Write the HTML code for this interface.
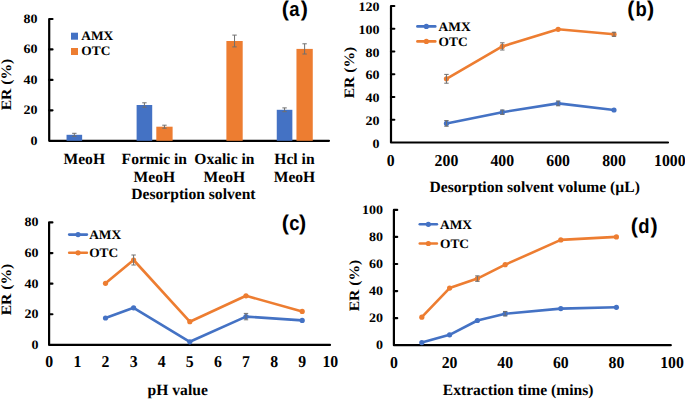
<!DOCTYPE html>
<html><head><meta charset="utf-8"><style>
html,body{margin:0;padding:0;background:#fff;}
body{width:685px;height:399px;overflow:hidden;}
svg{display:block;}
.s{font-family:"Liberation Serif", serif;font-weight:bold;fill:#000;}
.a{font-family:"Liberation Sans", sans-serif;font-weight:bold;fill:#000;}
</style></head><body>
<svg width="685" height="399" viewBox="0 0 685 399" text-rendering="geometricPrecision">
<rect width="685" height="399" fill="#fff"/>
<path d="M52.50,19.00 L49.20,19.00 L49.20,140.80 L329.00,140.80" fill="none" stroke="#000" stroke-width="2.2" stroke-linejoin="round" stroke-linecap="round"/>
<line x1="49.20" y1="49.45" x2="52.50" y2="49.45" stroke="#000" stroke-width="2.2" stroke-linecap="round"/>
<line x1="49.20" y1="79.90" x2="52.50" y2="79.90" stroke="#000" stroke-width="2.2" stroke-linecap="round"/>
<line x1="49.20" y1="110.35" x2="52.50" y2="110.35" stroke="#000" stroke-width="2.2" stroke-linecap="round"/>
<text class="s" transform="translate(37.50,23.00) scale(1,0.92)" font-size="14" text-anchor="end">80</text>
<text class="s" transform="translate(37.50,53.45) scale(1,0.92)" font-size="14" text-anchor="end">60</text>
<text class="s" transform="translate(37.50,83.90) scale(1,0.92)" font-size="14" text-anchor="end">40</text>
<text class="s" transform="translate(37.50,114.35) scale(1,0.92)" font-size="14" text-anchor="end">20</text>
<text class="s" transform="translate(37.50,144.80) scale(1,0.92)" font-size="14" text-anchor="end">0</text>
<rect x="66.54" y="134.80" width="15.60" height="6.00" fill="#4472C4"/>
<rect x="136.61" y="105.00" width="15.60" height="35.80" fill="#4472C4"/>
<rect x="156.31" y="126.70" width="16.30" height="14.10" fill="#ED7D31"/>
<rect x="226.39" y="41.00" width="16.30" height="99.80" fill="#ED7D31"/>
<rect x="276.76" y="109.80" width="15.60" height="31.00" fill="#4472C4"/>
<rect x="296.46" y="48.90" width="16.30" height="91.90" fill="#ED7D31"/>
<line x1="74.34" y1="133.30" x2="74.34" y2="136.30" stroke="#6f6f6f" stroke-width="1" stroke-linecap="butt"/>
<line x1="72.14" y1="133.30" x2="76.54" y2="133.30" stroke="#6f6f6f" stroke-width="1" stroke-linecap="butt"/>
<line x1="72.14" y1="136.30" x2="76.54" y2="136.30" stroke="#6f6f6f" stroke-width="1" stroke-linecap="butt"/>
<line x1="144.41" y1="102.80" x2="144.41" y2="107.20" stroke="#6f6f6f" stroke-width="1" stroke-linecap="butt"/>
<line x1="142.21" y1="102.80" x2="146.61" y2="102.80" stroke="#6f6f6f" stroke-width="1" stroke-linecap="butt"/>
<line x1="142.21" y1="107.20" x2="146.61" y2="107.20" stroke="#6f6f6f" stroke-width="1" stroke-linecap="butt"/>
<line x1="164.46" y1="125.20" x2="164.46" y2="128.20" stroke="#6f6f6f" stroke-width="1" stroke-linecap="butt"/>
<line x1="162.26" y1="125.20" x2="166.66" y2="125.20" stroke="#6f6f6f" stroke-width="1" stroke-linecap="butt"/>
<line x1="162.26" y1="128.20" x2="166.66" y2="128.20" stroke="#6f6f6f" stroke-width="1" stroke-linecap="butt"/>
<line x1="234.54" y1="35.10" x2="234.54" y2="46.90" stroke="#6f6f6f" stroke-width="1" stroke-linecap="butt"/>
<line x1="232.34" y1="35.10" x2="236.74" y2="35.10" stroke="#6f6f6f" stroke-width="1" stroke-linecap="butt"/>
<line x1="232.34" y1="46.90" x2="236.74" y2="46.90" stroke="#6f6f6f" stroke-width="1" stroke-linecap="butt"/>
<line x1="284.56" y1="107.90" x2="284.56" y2="111.70" stroke="#6f6f6f" stroke-width="1" stroke-linecap="butt"/>
<line x1="282.36" y1="107.90" x2="286.76" y2="107.90" stroke="#6f6f6f" stroke-width="1" stroke-linecap="butt"/>
<line x1="282.36" y1="111.70" x2="286.76" y2="111.70" stroke="#6f6f6f" stroke-width="1" stroke-linecap="butt"/>
<line x1="304.61" y1="43.80" x2="304.61" y2="54.00" stroke="#6f6f6f" stroke-width="1" stroke-linecap="butt"/>
<line x1="302.41" y1="43.80" x2="306.81" y2="43.80" stroke="#6f6f6f" stroke-width="1" stroke-linecap="butt"/>
<line x1="302.41" y1="54.00" x2="306.81" y2="54.00" stroke="#6f6f6f" stroke-width="1" stroke-linecap="butt"/>
<rect x="71.00" y="32.70" width="7.00" height="7.00" fill="#4472C4"/>
<rect x="71.00" y="48.00" width="7.00" height="7.00" fill="#ED7D31"/>
<text class="s" transform="translate(81.30,40.10) scale(1,0.97)" font-size="13.4" text-anchor="start">AMX</text>
<text class="s" transform="translate(81.30,55.30) scale(1,0.97)" font-size="13.4" text-anchor="start">OTC</text>
<text class="s" transform="translate(84.24,164.00) scale(1,1.0)" font-size="15.6" text-anchor="middle">MeoH</text>
<text class="s" transform="translate(154.31,164.00) scale(1,1.0)" font-size="15.6" text-anchor="middle">Formic in</text>
<text class="s" transform="translate(154.31,181.60) scale(1,1.0)" font-size="15.6" text-anchor="middle">MeoH</text>
<text class="s" transform="translate(224.39,164.00) scale(1,1.0)" font-size="15.6" text-anchor="middle">Oxalic in</text>
<text class="s" transform="translate(224.39,181.60) scale(1,1.0)" font-size="15.6" text-anchor="middle">MeoH</text>
<text class="s" transform="translate(294.46,164.00) scale(1,1.0)" font-size="15.6" text-anchor="middle">Hcl in</text>
<text class="s" transform="translate(294.46,181.60) scale(1,1.0)" font-size="15.6" text-anchor="middle">MeoH</text>
<text class="s" transform="translate(193.40,198.60) scale(1,1.0)" font-size="15.6" text-anchor="middle">Desorption solvent</text>
<text class="a" font-size="21.5" text-anchor="middle" x="285.25" y="16.20">(</text>
<text class="a" font-size="20.5" text-anchor="middle" transform="translate(294.40,16.20) scale(0.9,1)">a</text>
<text class="a" font-size="21.5" text-anchor="middle" x="304.40" y="16.20">)</text>
<text class="s" font-size="15.6" text-anchor="middle" transform="translate(11.10,84.60) rotate(-90) scale(1,0.92)">ER (%)</text>
<path d="M394.30,6.00 L391.00,6.00 L391.00,142.50 L668.00,142.50" fill="none" stroke="#000" stroke-width="2.2" stroke-linejoin="round" stroke-linecap="round"/>
<line x1="391.00" y1="119.75" x2="394.30" y2="119.75" stroke="#000" stroke-width="2.2" stroke-linecap="round"/>
<line x1="391.00" y1="97.00" x2="394.30" y2="97.00" stroke="#000" stroke-width="2.2" stroke-linecap="round"/>
<line x1="391.00" y1="74.25" x2="394.30" y2="74.25" stroke="#000" stroke-width="2.2" stroke-linecap="round"/>
<line x1="391.00" y1="51.50" x2="394.30" y2="51.50" stroke="#000" stroke-width="2.2" stroke-linecap="round"/>
<line x1="391.00" y1="28.75" x2="394.30" y2="28.75" stroke="#000" stroke-width="2.2" stroke-linecap="round"/>
<text class="s" transform="translate(379.50,147.60) scale(1,0.92)" font-size="14" text-anchor="end">0</text>
<text class="s" transform="translate(379.50,124.85) scale(1,0.92)" font-size="14" text-anchor="end">20</text>
<text class="s" transform="translate(379.50,102.10) scale(1,0.92)" font-size="14" text-anchor="end">40</text>
<text class="s" transform="translate(379.50,79.35) scale(1,0.92)" font-size="14" text-anchor="end">60</text>
<text class="s" transform="translate(379.50,56.60) scale(1,0.92)" font-size="14" text-anchor="end">80</text>
<text class="s" transform="translate(379.50,33.85) scale(1,0.92)" font-size="14" text-anchor="end">100</text>
<text class="s" transform="translate(379.50,11.10) scale(1,0.92)" font-size="14" text-anchor="end">120</text>
<text class="s" transform="translate(390.60,165.70) scale(1,1.05)" font-size="15.8" text-anchor="middle">0</text>
<text class="s" transform="translate(446.45,165.70) scale(1,1.05)" font-size="15.8" text-anchor="middle">200</text>
<text class="s" transform="translate(502.30,165.70) scale(1,1.05)" font-size="15.8" text-anchor="middle">400</text>
<text class="s" transform="translate(558.15,165.70) scale(1,1.05)" font-size="15.8" text-anchor="middle">600</text>
<text class="s" transform="translate(614.00,165.70) scale(1,1.05)" font-size="15.8" text-anchor="middle">800</text>
<text class="s" transform="translate(669.85,165.70) scale(1,1.05)" font-size="15.8" text-anchor="middle">1000</text>
<polyline points="446.45,123.40 502.30,112.20 558.15,103.40 614.00,110.00" fill="none" stroke="#4472C4" stroke-width="2.6" stroke-linejoin="round" stroke-linecap="round"/>
<circle cx="446.45" cy="123.40" r="2.6" fill="#4472C4"/>
<circle cx="502.30" cy="112.20" r="2.6" fill="#4472C4"/>
<circle cx="558.15" cy="103.40" r="2.6" fill="#4472C4"/>
<circle cx="614.00" cy="110.00" r="2.6" fill="#4472C4"/>
<polyline points="446.45,78.80 502.30,46.40 558.15,29.30 614.00,34.30" fill="none" stroke="#ED7D31" stroke-width="2.6" stroke-linejoin="round" stroke-linecap="round"/>
<circle cx="446.45" cy="78.80" r="2.6" fill="#ED7D31"/>
<circle cx="502.30" cy="46.40" r="2.6" fill="#ED7D31"/>
<circle cx="558.15" cy="29.30" r="2.6" fill="#ED7D31"/>
<circle cx="614.00" cy="34.30" r="2.6" fill="#ED7D31"/>
<line x1="446.45" y1="120.55" x2="446.45" y2="126.25" stroke="#6f6f6f" stroke-width="1" stroke-linecap="butt"/>
<line x1="444.25" y1="120.55" x2="448.65" y2="120.55" stroke="#6f6f6f" stroke-width="1" stroke-linecap="butt"/>
<line x1="444.25" y1="126.25" x2="448.65" y2="126.25" stroke="#6f6f6f" stroke-width="1" stroke-linecap="butt"/>
<line x1="502.30" y1="110.00" x2="502.30" y2="114.40" stroke="#6f6f6f" stroke-width="1" stroke-linecap="butt"/>
<line x1="500.10" y1="110.00" x2="504.50" y2="110.00" stroke="#6f6f6f" stroke-width="1" stroke-linecap="butt"/>
<line x1="500.10" y1="114.40" x2="504.50" y2="114.40" stroke="#6f6f6f" stroke-width="1" stroke-linecap="butt"/>
<line x1="558.15" y1="101.00" x2="558.15" y2="105.80" stroke="#6f6f6f" stroke-width="1" stroke-linecap="butt"/>
<line x1="555.95" y1="101.00" x2="560.35" y2="101.00" stroke="#6f6f6f" stroke-width="1" stroke-linecap="butt"/>
<line x1="555.95" y1="105.80" x2="560.35" y2="105.80" stroke="#6f6f6f" stroke-width="1" stroke-linecap="butt"/>
<line x1="446.45" y1="74.40" x2="446.45" y2="83.20" stroke="#6f6f6f" stroke-width="1" stroke-linecap="butt"/>
<line x1="444.25" y1="74.40" x2="448.65" y2="74.40" stroke="#6f6f6f" stroke-width="1" stroke-linecap="butt"/>
<line x1="444.25" y1="83.20" x2="448.65" y2="83.20" stroke="#6f6f6f" stroke-width="1" stroke-linecap="butt"/>
<line x1="502.30" y1="42.80" x2="502.30" y2="50.00" stroke="#6f6f6f" stroke-width="1" stroke-linecap="butt"/>
<line x1="500.10" y1="42.80" x2="504.50" y2="42.80" stroke="#6f6f6f" stroke-width="1" stroke-linecap="butt"/>
<line x1="500.10" y1="50.00" x2="504.50" y2="50.00" stroke="#6f6f6f" stroke-width="1" stroke-linecap="butt"/>
<line x1="614.00" y1="32.25" x2="614.00" y2="36.35" stroke="#6f6f6f" stroke-width="1" stroke-linecap="butt"/>
<line x1="611.80" y1="32.25" x2="616.20" y2="32.25" stroke="#6f6f6f" stroke-width="1" stroke-linecap="butt"/>
<line x1="611.80" y1="36.35" x2="616.20" y2="36.35" stroke="#6f6f6f" stroke-width="1" stroke-linecap="butt"/>
<line x1="417.40" y1="26.40" x2="435.30" y2="26.40" stroke="#4472C4" stroke-width="2.6" stroke-linecap="round"/>
<circle cx="426.35" cy="26.40" r="2.6" fill="#4472C4"/>
<line x1="417.40" y1="41.40" x2="435.30" y2="41.40" stroke="#ED7D31" stroke-width="2.6" stroke-linecap="round"/>
<circle cx="426.35" cy="41.40" r="2.6" fill="#ED7D31"/>
<text class="s" transform="translate(438.60,30.90) scale(1,0.97)" font-size="13.4" text-anchor="start">AMX</text>
<text class="s" transform="translate(438.60,45.70) scale(1,0.97)" font-size="13.4" text-anchor="start">OTC</text>
<text class="s" transform="translate(534.70,192.00) scale(1,1.0)" font-size="15.6" text-anchor="middle">Desorption solvent volume (µL)</text>
<text class="a" font-size="21.5" text-anchor="middle" x="630.75" y="15.80">(</text>
<text class="a" font-size="20.5" text-anchor="middle" transform="translate(641.25,15.80) scale(0.9,1)">b</text>
<text class="a" font-size="21.5" text-anchor="middle" x="650.65" y="15.80">)</text>
<text class="s" font-size="15.6" text-anchor="middle" transform="translate(353.90,72.60) rotate(-90) scale(1,0.92)">ER (%)</text>
<path d="M52.40,222.40 L49.10,222.40 L49.10,344.90 L330.00,344.90" fill="none" stroke="#000" stroke-width="2.2" stroke-linejoin="round" stroke-linecap="round"/>
<line x1="49.10" y1="314.27" x2="52.40" y2="314.27" stroke="#000" stroke-width="2.2" stroke-linecap="round"/>
<line x1="49.10" y1="283.65" x2="52.40" y2="283.65" stroke="#000" stroke-width="2.2" stroke-linecap="round"/>
<line x1="49.10" y1="253.03" x2="52.40" y2="253.03" stroke="#000" stroke-width="2.2" stroke-linecap="round"/>
<text class="s" transform="translate(38.40,348.80) scale(1,0.92)" font-size="14" text-anchor="end">0</text>
<text class="s" transform="translate(38.40,318.17) scale(1,0.92)" font-size="14" text-anchor="end">20</text>
<text class="s" transform="translate(38.40,287.55) scale(1,0.92)" font-size="14" text-anchor="end">40</text>
<text class="s" transform="translate(38.40,256.93) scale(1,0.92)" font-size="14" text-anchor="end">60</text>
<text class="s" transform="translate(38.40,226.30) scale(1,0.92)" font-size="14" text-anchor="end">80</text>
<text class="s" transform="translate(49.30,366.70) scale(1,1.05)" font-size="15.8" text-anchor="middle">0</text>
<text class="s" transform="translate(77.40,366.70) scale(1,1.05)" font-size="15.8" text-anchor="middle">1</text>
<text class="s" transform="translate(105.50,366.70) scale(1,1.05)" font-size="15.8" text-anchor="middle">2</text>
<text class="s" transform="translate(133.60,366.70) scale(1,1.05)" font-size="15.8" text-anchor="middle">3</text>
<text class="s" transform="translate(161.70,366.70) scale(1,1.05)" font-size="15.8" text-anchor="middle">4</text>
<text class="s" transform="translate(189.80,366.70) scale(1,1.05)" font-size="15.8" text-anchor="middle">5</text>
<text class="s" transform="translate(217.90,366.70) scale(1,1.05)" font-size="15.8" text-anchor="middle">6</text>
<text class="s" transform="translate(246.00,366.70) scale(1,1.05)" font-size="15.8" text-anchor="middle">7</text>
<text class="s" transform="translate(274.10,366.70) scale(1,1.05)" font-size="15.8" text-anchor="middle">8</text>
<text class="s" transform="translate(302.20,366.70) scale(1,1.05)" font-size="15.8" text-anchor="middle">9</text>
<text class="s" transform="translate(330.30,366.70) scale(1,1.05)" font-size="15.8" text-anchor="middle">10</text>
<polyline points="105.50,318.00 133.60,307.80 189.80,341.80 246.00,316.60 302.20,320.40" fill="none" stroke="#4472C4" stroke-width="2.6" stroke-linejoin="round" stroke-linecap="round"/>
<circle cx="105.50" cy="318.00" r="2.6" fill="#4472C4"/>
<circle cx="133.60" cy="307.80" r="2.6" fill="#4472C4"/>
<circle cx="189.80" cy="341.80" r="2.6" fill="#4472C4"/>
<circle cx="246.00" cy="316.60" r="2.6" fill="#4472C4"/>
<circle cx="302.20" cy="320.40" r="2.6" fill="#4472C4"/>
<polyline points="105.50,283.30 133.60,260.00 189.80,321.70 246.00,295.80 302.20,311.40" fill="none" stroke="#ED7D31" stroke-width="2.6" stroke-linejoin="round" stroke-linecap="round"/>
<circle cx="105.50" cy="283.30" r="2.6" fill="#ED7D31"/>
<circle cx="133.60" cy="260.00" r="2.6" fill="#ED7D31"/>
<circle cx="189.80" cy="321.70" r="2.6" fill="#ED7D31"/>
<circle cx="246.00" cy="295.80" r="2.6" fill="#ED7D31"/>
<circle cx="302.20" cy="311.40" r="2.6" fill="#ED7D31"/>
<line x1="246.00" y1="313.40" x2="246.00" y2="319.80" stroke="#6f6f6f" stroke-width="1" stroke-linecap="butt"/>
<line x1="243.80" y1="313.40" x2="248.20" y2="313.40" stroke="#6f6f6f" stroke-width="1" stroke-linecap="butt"/>
<line x1="243.80" y1="319.80" x2="248.20" y2="319.80" stroke="#6f6f6f" stroke-width="1" stroke-linecap="butt"/>
<line x1="133.60" y1="255.00" x2="133.60" y2="265.00" stroke="#6f6f6f" stroke-width="1" stroke-linecap="butt"/>
<line x1="131.40" y1="255.00" x2="135.80" y2="255.00" stroke="#6f6f6f" stroke-width="1" stroke-linecap="butt"/>
<line x1="131.40" y1="265.00" x2="135.80" y2="265.00" stroke="#6f6f6f" stroke-width="1" stroke-linecap="butt"/>
<line x1="69.20" y1="234.60" x2="86.90" y2="234.60" stroke="#4472C4" stroke-width="2.6" stroke-linecap="round"/>
<circle cx="78.05" cy="234.60" r="2.6" fill="#4472C4"/>
<line x1="69.20" y1="252.80" x2="86.90" y2="252.80" stroke="#ED7D31" stroke-width="2.6" stroke-linecap="round"/>
<circle cx="78.05" cy="252.80" r="2.6" fill="#ED7D31"/>
<text class="s" transform="translate(89.20,238.80) scale(1,0.97)" font-size="13.4" text-anchor="start">AMX</text>
<text class="s" transform="translate(89.20,256.80) scale(1,0.97)" font-size="13.4" text-anchor="start">OTC</text>
<text class="s" transform="translate(177.70,395.20) scale(1,1.0)" font-size="15.6" text-anchor="middle">pH value</text>
<text class="a" font-size="21.5" text-anchor="middle" x="285.40" y="229.70">(</text>
<text class="a" font-size="20.5" text-anchor="middle" transform="translate(294.40,229.70) scale(0.9,1)">c</text>
<text class="a" font-size="21.5" text-anchor="middle" x="302.50" y="229.70">)</text>
<text class="s" font-size="15.6" text-anchor="middle" transform="translate(11.00,289.60) rotate(-90) scale(1,0.92)">ER (%)</text>
<path d="M397.20,209.90 L393.90,209.90 L393.90,345.20 L670.80,345.20" fill="none" stroke="#000" stroke-width="2.2" stroke-linejoin="round" stroke-linecap="round"/>
<line x1="393.90" y1="318.14" x2="397.20" y2="318.14" stroke="#000" stroke-width="2.2" stroke-linecap="round"/>
<line x1="393.90" y1="291.08" x2="397.20" y2="291.08" stroke="#000" stroke-width="2.2" stroke-linecap="round"/>
<line x1="393.90" y1="264.02" x2="397.20" y2="264.02" stroke="#000" stroke-width="2.2" stroke-linecap="round"/>
<line x1="393.90" y1="236.96" x2="397.20" y2="236.96" stroke="#000" stroke-width="2.2" stroke-linecap="round"/>
<text class="s" transform="translate(382.90,349.10) scale(1,0.92)" font-size="14" text-anchor="end">0</text>
<text class="s" transform="translate(382.90,322.04) scale(1,0.92)" font-size="14" text-anchor="end">20</text>
<text class="s" transform="translate(382.90,294.98) scale(1,0.92)" font-size="14" text-anchor="end">40</text>
<text class="s" transform="translate(382.90,267.92) scale(1,0.92)" font-size="14" text-anchor="end">60</text>
<text class="s" transform="translate(382.90,240.86) scale(1,0.92)" font-size="14" text-anchor="end">80</text>
<text class="s" transform="translate(382.90,213.80) scale(1,0.92)" font-size="14" text-anchor="end">100</text>
<text class="s" transform="translate(394.00,367.90) scale(1,1.05)" font-size="15.8" text-anchor="middle">0</text>
<text class="s" transform="translate(449.60,367.90) scale(1,1.05)" font-size="15.8" text-anchor="middle">20</text>
<text class="s" transform="translate(505.20,367.90) scale(1,1.05)" font-size="15.8" text-anchor="middle">40</text>
<text class="s" transform="translate(560.80,367.90) scale(1,1.05)" font-size="15.8" text-anchor="middle">60</text>
<text class="s" transform="translate(616.40,367.90) scale(1,1.05)" font-size="15.8" text-anchor="middle">80</text>
<text class="s" transform="translate(672.00,367.90) scale(1,1.05)" font-size="15.8" text-anchor="middle">100</text>
<polyline points="421.80,342.60 449.60,334.80 477.40,320.50 505.20,313.70 560.80,308.60 616.40,307.30" fill="none" stroke="#4472C4" stroke-width="2.6" stroke-linejoin="round" stroke-linecap="round"/>
<circle cx="421.80" cy="342.60" r="2.6" fill="#4472C4"/>
<circle cx="449.60" cy="334.80" r="2.6" fill="#4472C4"/>
<circle cx="477.40" cy="320.50" r="2.6" fill="#4472C4"/>
<circle cx="505.20" cy="313.70" r="2.6" fill="#4472C4"/>
<circle cx="560.80" cy="308.60" r="2.6" fill="#4472C4"/>
<circle cx="616.40" cy="307.30" r="2.6" fill="#4472C4"/>
<polyline points="421.80,317.20 449.60,288.10 477.40,278.60 505.20,264.70 560.80,239.90 616.40,236.90" fill="none" stroke="#ED7D31" stroke-width="2.6" stroke-linejoin="round" stroke-linecap="round"/>
<circle cx="421.80" cy="317.20" r="2.6" fill="#ED7D31"/>
<circle cx="449.60" cy="288.10" r="2.6" fill="#ED7D31"/>
<circle cx="477.40" cy="278.60" r="2.6" fill="#ED7D31"/>
<circle cx="505.20" cy="264.70" r="2.6" fill="#ED7D31"/>
<circle cx="560.80" cy="239.90" r="2.6" fill="#ED7D31"/>
<circle cx="616.40" cy="236.90" r="2.6" fill="#ED7D31"/>
<line x1="505.20" y1="311.45" x2="505.20" y2="315.95" stroke="#6f6f6f" stroke-width="1" stroke-linecap="butt"/>
<line x1="503.00" y1="311.45" x2="507.40" y2="311.45" stroke="#6f6f6f" stroke-width="1" stroke-linecap="butt"/>
<line x1="503.00" y1="315.95" x2="507.40" y2="315.95" stroke="#6f6f6f" stroke-width="1" stroke-linecap="butt"/>
<line x1="477.40" y1="275.85" x2="477.40" y2="281.35" stroke="#6f6f6f" stroke-width="1" stroke-linecap="butt"/>
<line x1="475.20" y1="275.85" x2="479.60" y2="275.85" stroke="#6f6f6f" stroke-width="1" stroke-linecap="butt"/>
<line x1="475.20" y1="281.35" x2="479.60" y2="281.35" stroke="#6f6f6f" stroke-width="1" stroke-linecap="butt"/>
<line x1="419.80" y1="224.30" x2="436.90" y2="224.30" stroke="#4472C4" stroke-width="2.6" stroke-linecap="round"/>
<circle cx="428.35" cy="224.30" r="2.6" fill="#4472C4"/>
<line x1="419.80" y1="243.50" x2="436.90" y2="243.50" stroke="#ED7D31" stroke-width="2.6" stroke-linecap="round"/>
<circle cx="428.35" cy="243.50" r="2.6" fill="#ED7D31"/>
<text class="s" transform="translate(440.00,228.50) scale(1,0.97)" font-size="13.4" text-anchor="start">AMX</text>
<text class="s" transform="translate(440.00,247.60) scale(1,0.97)" font-size="13.4" text-anchor="start">OTC</text>
<text class="s" transform="translate(518.10,395.40) scale(1,1.0)" font-size="15.6" text-anchor="middle">Extraction time (mins)</text>
<text class="a" font-size="21.5" text-anchor="middle" x="634.45" y="233.20">(</text>
<text class="a" font-size="20.5" text-anchor="middle" transform="translate(643.95,233.20) scale(0.9,1)">d</text>
<text class="a" font-size="21.5" text-anchor="middle" x="654.00" y="233.20">)</text>
<text class="s" font-size="15.6" text-anchor="middle" transform="translate(359.20,285.60) rotate(-90) scale(1,0.92)">ER (%)</text>
</svg>
</body></html>
